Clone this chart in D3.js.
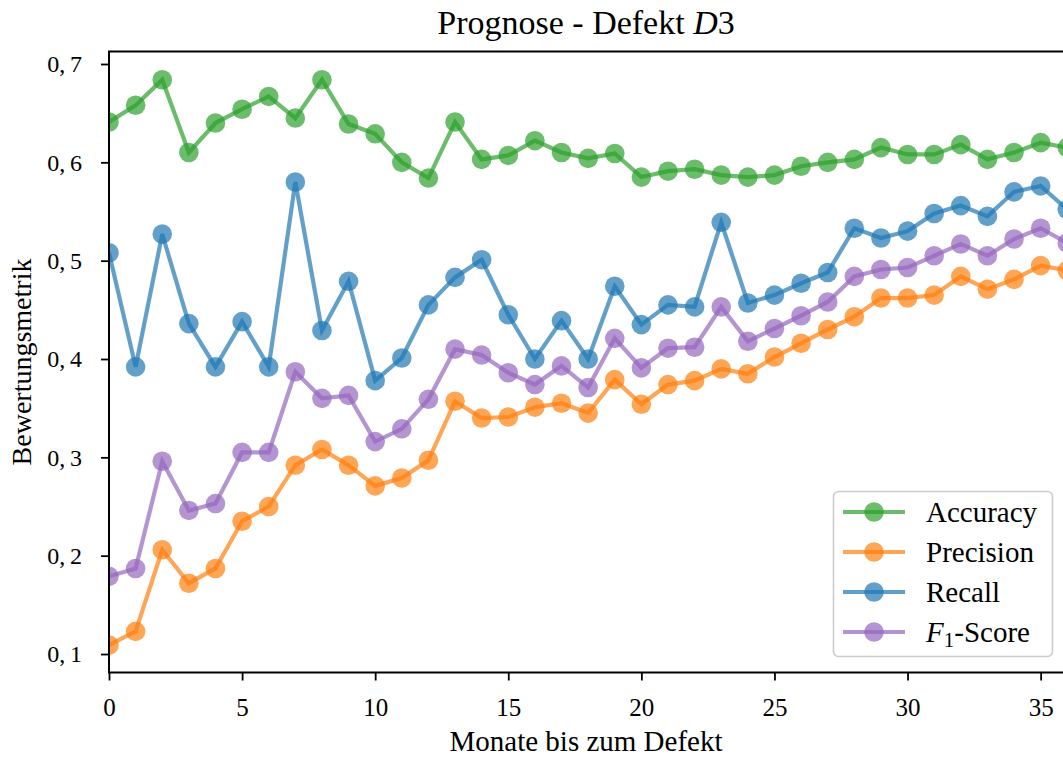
<!DOCTYPE html>
<html>
<head>
<meta charset="utf-8">
<script src="https://cdn.jsdelivr.net/npm/d3@7"></script>
<style>
  html, body { margin: 0; padding: 0; background: #fff; }
  svg { display: block; font-family: "Liberation Serif", "DejaVu Serif", serif; }
</style>
</head>
<body>
<svg id="chart" width="1063" height="758"></svg>
<script>
// Months before the defect (x) and evaluation metrics per month
const months = d3.range(0, 37);
const accuracy = [0.641,0.658,0.684,0.610,0.640,0.654,0.667,0.645,0.684,0.639,0.629,0.600,0.584,0.641,0.603,0.607,0.622,0.610,0.604,0.609,0.585,0.591,0.593,0.587,0.585,0.587,0.596,0.600,0.603,0.615,0.608,0.608,0.618,0.603,0.610,0.620,0.615];
const precision = [0.109,0.123,0.206,0.172,0.187,0.235,0.250,0.292,0.308,0.292,0.271,0.279,0.297,0.357,0.340,0.341,0.351,0.355,0.345,0.379,0.354,0.374,0.378,0.390,0.385,0.402,0.416,0.430,0.443,0.462,0.462,0.465,0.484,0.471,0.481,0.495,0.490];
const recall = [0.508,0.392,0.527,0.436,0.392,0.438,0.392,0.580,0.429,0.479,0.378,0.401,0.455,0.483,0.501,0.445,0.400,0.439,0.400,0.474,0.435,0.455,0.453,0.539,0.457,0.465,0.477,0.488,0.533,0.523,0.530,0.548,0.556,0.545,0.570,0.576,0.552];
const f1score = [0.179,0.187,0.296,0.246,0.253,0.305,0.305,0.387,0.360,0.363,0.316,0.329,0.359,0.410,0.404,0.386,0.374,0.393,0.371,0.421,0.391,0.411,0.412,0.453,0.418,0.431,0.444,0.458,0.484,0.491,0.493,0.505,0.517,0.505,0.522,0.533,0.518];

const xTicks = [0, 5, 10, 15, 20, 25, 30, 35];
const yTicks = [0.1, 0.2, 0.3, 0.4, 0.5, 0.6, 0.7];

const seriesNames = ["Accuracy", "Precision", "Recall", "F1-Score"];
const seriesColors = ["#2ca02c", "#ff7f0e", "#1f77b4", "#9467bd"];
const seriesValues = [accuracy, precision, recall, f1score];

const svg = d3.select("#chart");
const plot = { left: 109, right: 1063, top: 51.5, bottom: 672.5 };

const x = d3.scaleLinear().domain([0, 35.84]).range([plot.left, plot.right]);
const y = d3.scaleLinear().domain([0.0812, 0.7127]).range([plot.bottom, plot.top]);

svg.append("defs").append("clipPath").attr("id", "plot-clip")
  .append("rect")
  .attr("x", plot.left).attr("y", plot.top)
  .attr("width", plot.right - plot.left + 20).attr("height", plot.bottom - plot.top);

// Series: line first, then markers on top, each semi-transparent
const body = svg.append("g").attr("clip-path", "url(#plot-clip)");
const line = d3.line().x((d, i) => x(months[i])).y(d => y(d));

seriesValues.forEach((vals, k) => {
  const g = body.append("g");
  g.append("path")
    .attr("d", line(vals))
    .attr("fill", "none")
    .attr("stroke", seriesColors[k])
    .attr("stroke-width", 4.2)
    .attr("stroke-linejoin", "miter")
    .attr("opacity", 0.7);
  g.selectAll("circle").data(vals).join("circle")
    .attr("cx", (d, i) => x(months[i]))
    .attr("cy", d => y(d))
    .attr("r", 9.8)
    .attr("fill", seriesColors[k])
    .attr("opacity", 0.7);
});

// Axes
const fmt = v => d3.format(".1f")(v).replace(".", ",\u2009");

const xAxis = svg.append("g")
  .attr("transform", `translate(0,${plot.bottom})`)
  .call(d3.axisBottom(x).tickValues(xTicks).tickSize(8).tickPadding(12).tickFormat(d3.format("d")));
xAxis.select(".domain").remove();
xAxis.selectAll(".tick line").attr("stroke", "#000").attr("stroke-width", 1.8);
xAxis.selectAll(".tick text")
  .attr("font-size", 25).attr("fill", "#000")
  .attr("font-family", "Liberation Serif, serif")
  .attr("dy", "0.95em");

const yAxis = svg.append("g")
  .attr("transform", `translate(${plot.left},0)`)
  .call(d3.axisLeft(y).tickValues(yTicks).tickSize(8).tickPadding(19).tickFormat(fmt));
yAxis.select(".domain").remove();
yAxis.selectAll(".tick line").attr("stroke", "#000").attr("stroke-width", 1.8);
yAxis.selectAll(".tick text")
  .attr("font-size", 24).attr("fill", "#000")
  .attr("font-family", "Liberation Serif, serif")
  .attr("dy", "0.33em");

// Spines (left, bottom, top)
svg.append("path")
  .attr("d", `M${plot.right + 2},${plot.top} H${plot.left} V${plot.bottom} H${plot.right + 2}`)
  .attr("fill", "none").attr("stroke", "#000").attr("stroke-width", 2);

// Title
const title = svg.append("text")
  .attr("x", (plot.left + plot.right) / 2).attr("y", 34)
  .attr("text-anchor", "middle").attr("font-size", 34).attr("fill", "#000");
title.append("tspan").text("Prognose - Defekt ");
title.append("tspan").attr("font-style", "italic").text("D");
title.append("tspan").text("3");

// Axis labels
svg.append("text")
  .attr("x", (plot.left + plot.right) / 2).attr("y", 751)
  .attr("text-anchor", "middle").attr("font-size", 29).attr("fill", "#000")
  .text("Monate bis zum Defekt");

svg.append("text")
  .attr("transform", `translate(31,${(plot.top + plot.bottom) / 2}) rotate(-90)`)
  .attr("text-anchor", "middle").attr("font-size", 28).attr("fill", "#000")
  .text("Bewertungsmetrik");

// Legend
const legend = svg.append("g");
legend.append("rect")
  .attr("x", 833.5).attr("y", 491.5).attr("width", 219).attr("height", 165)
  .attr("rx", 5).attr("fill", "#fff").attr("fill-opacity", 0.8)
  .attr("stroke", "#cccccc").attr("stroke-width", 1.6);

const rowY = [512, 552, 592, 632];
seriesNames.forEach((name, k) => {
  const row = legend.append("g").attr("transform", `translate(0,${rowY[k]})`);
  row.append("line")
    .attr("x1", 843).attr("x2", 905).attr("y1", 0).attr("y2", 0)
    .attr("stroke", seriesColors[k]).attr("stroke-width", 4.2).attr("opacity", 0.7);
  row.append("circle")
    .attr("cx", 874).attr("cy", 0).attr("r", 9.8)
    .attr("fill", seriesColors[k]).attr("opacity", 0.7);
  const t = row.append("text")
    .attr("x", 926).attr("y", 0).attr("dy", "0.33em")
    .attr("font-size", 29).attr("fill", "#000");
  if (name === "F1-Score") {
    t.append("tspan").attr("font-style", "italic").text("F");
    t.append("tspan").attr("font-size", 21).attr("dy", 5).text("1");
    t.append("tspan").attr("dy", -5).text("-Score");
  } else {
    t.text(name);
  }
});
</script>
</body>
</html>
